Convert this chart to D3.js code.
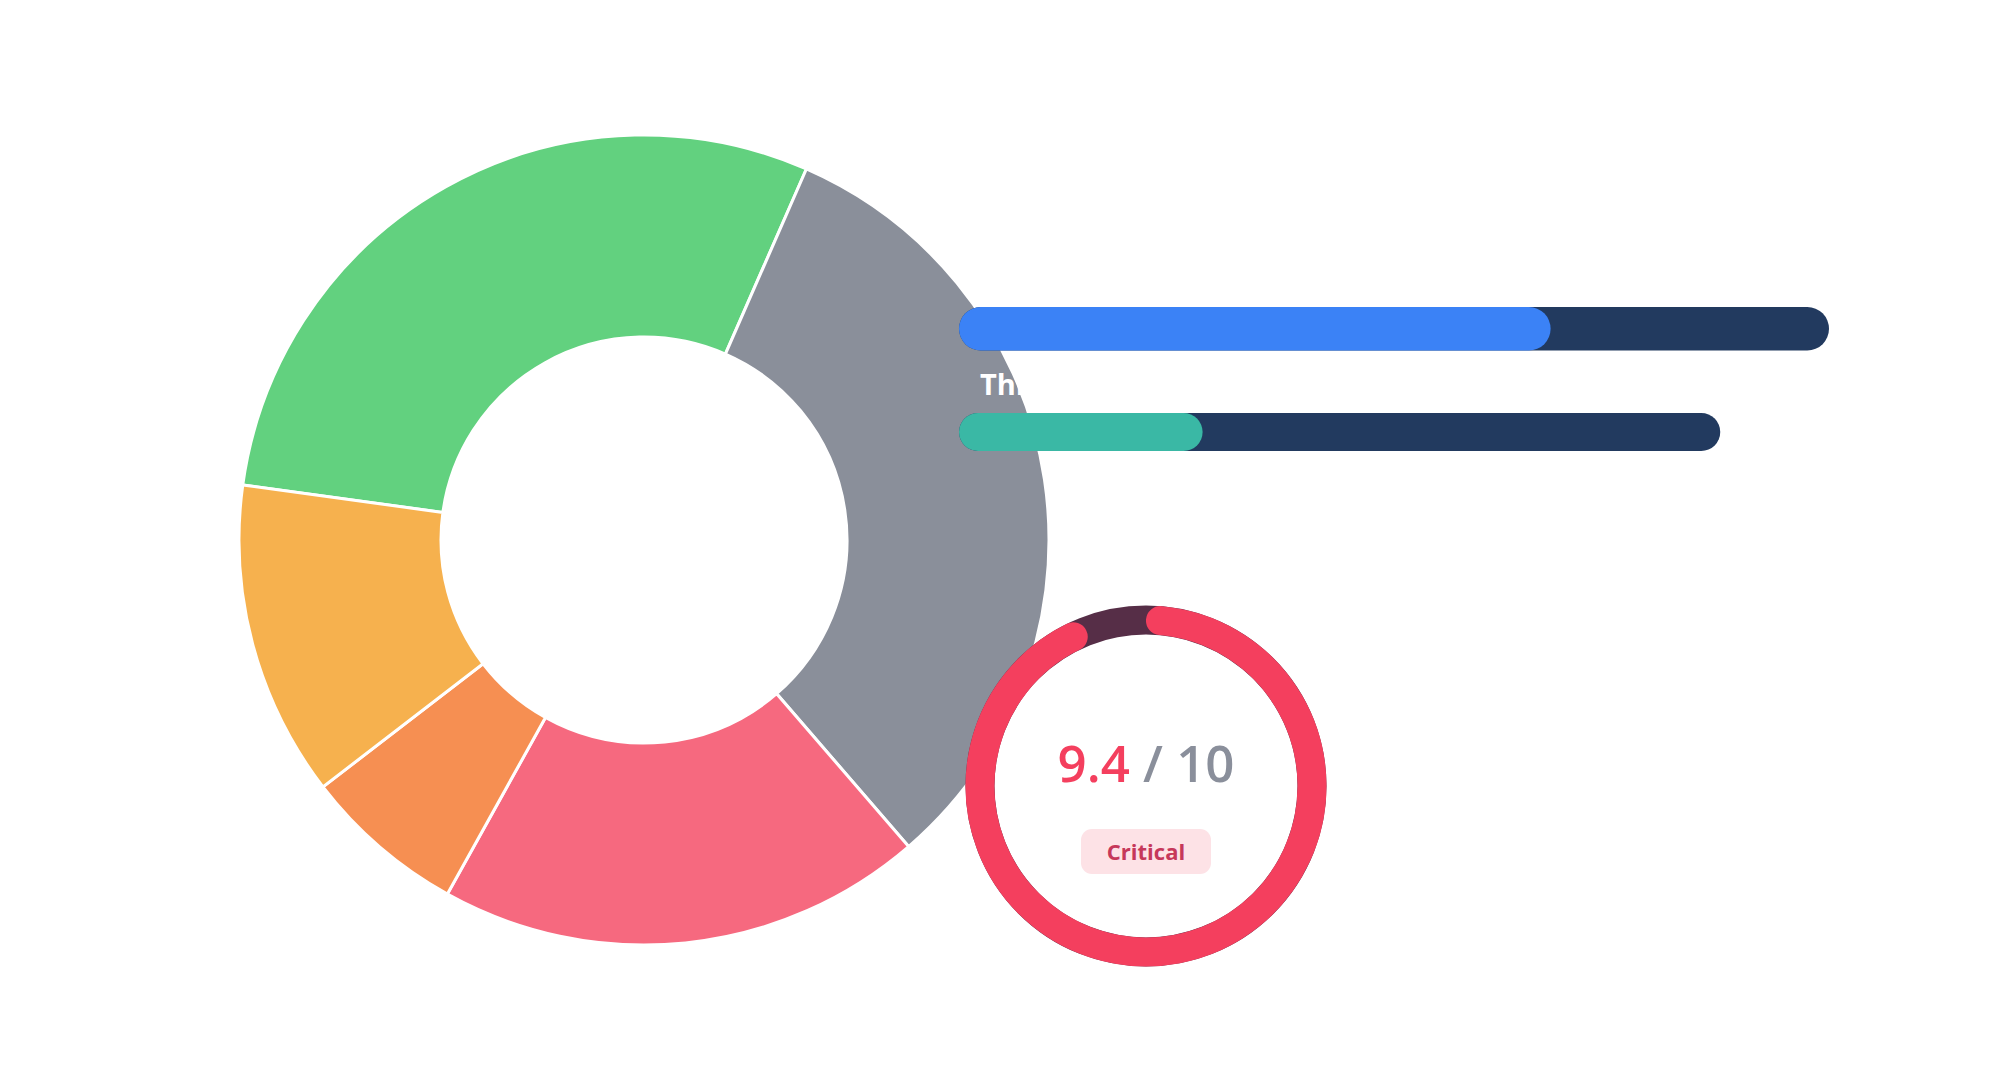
<!DOCTYPE html>
<html>
<head>
<meta charset="utf-8">
<script src="https://d3js.org/d3.v7.min.js"></script>
<style>
    body { margin: 0; background: #fff; }
    svg { display: block; font-family: "Open Sans", "Noto Sans", sans-serif; }
</style>
</head>
<body>
<script>

    // donut data
    var sliceLabels = ['Passed', 'Skipped', 'Failed', 'Errored', 'Warning'];
    var sliceValues = [29.4, 32.1, 19.4, 6.5, 12.6];
    var sliceColors = ['#62d17f', '#8a8f9a', '#f6697f', '#f68f52', '#f6b14e'];

    // progress bars
    var barLabels = ['Threat coverage', 'Threat exposure'];
    var barValues = [5.44, 2.24];
    var barMax = [8, 7];
    var barColors = ['#3b82f6', '#3ab8a5'];

    // score gauge
    var score = 9.4;
    var scoreMax = 10;
    var scoreLevel = 'Critical';

    var width = 2000,
        height = 1080;

    var svg = d3.select('body')
        .append('svg')
        .attr('width', width)
        .attr('height', height);

    svg.append('rect')
        .attr('width', width)
        .attr('height', height)
        .attr('fill', '#fff');

    // donut
    var deg = Math.PI / 180;
    var pie = d3.pie()
        .sort(null)
        .startAngle(-82.2 * deg)
        .endAngle(277.8 * deg);

    var arc = d3.arc()
        .innerRadius(203)
        .outerRadius(405);

    var donut = svg.append('g')
        .attr('transform', 'translate(644,540)');

    donut.selectAll('path')
        .data(pie(sliceValues))
        .enter()
        .append('path')
        .attr('d', arc)
        .attr('fill', (d, i) => sliceColors[i])
        .attr('stroke', '#fff')
        .attr('stroke-width', 3);

    // bars
    var xScale = d3.scaleLinear()
        .domain([0, 8])
        .range([959, 1829]);

    var barTop = [307, 413],
        barHeight = [43.5, 38];

    var bars = svg.append('g');

    bars.selectAll('rect.track')
        .data(barMax)
        .enter()
        .append('rect')
        .attr('class', 'track')
        .attr('x', xScale(0))
        .attr('y', (d, i) => barTop[i])
        .attr('width', d => xScale(d) - xScale(0))
        .attr('height', (d, i) => barHeight[i])
        .attr('rx', (d, i) => barHeight[i] / 2)
        .attr('fill', '#223a5f');

    bars.selectAll('rect.fill')
        .data(barValues)
        .enter()
        .append('rect')
        .attr('class', 'fill')
        .attr('x', xScale(0))
        .attr('y', (d, i) => barTop[i])
        .attr('width', d => xScale(d) - xScale(0))
        .attr('height', (d, i) => barHeight[i])
        .attr('rx', (d, i) => barHeight[i] / 2)
        .attr('fill', (d, i) => barColors[i]);

    // white labels, only visible where they cross the donut
    bars.selectAll('text')
        .data(barLabels)
        .enter()
        .append('text')
        .attr('x', xScale(0) + 21)
        .attr('y', (d, i) => barTop[i] - 18)
        .attr('fill', '#fff')
        .attr('font-size', 29)
        .attr('font-weight', 700)
        .text(d => d);

    // gauge
    var gx = 1146, gy = 786, gr = 166;
    var angle = d3.scaleLinear()
        .domain([0, scoreMax])
        .range([5 * deg, 355 * deg]);

    var gauge = svg.append('g')
        .attr('transform', 'translate(' + gx + ',' + gy + ')');

    gauge.append('circle')
        .attr('r', gr)
        .attr('fill', '#fff')
        .attr('stroke', '#562e47')
        .attr('stroke-width', 29);

    var p = d3.path();
    p.arc(0, 0, gr, angle(0) - Math.PI / 2, angle(score) - Math.PI / 2);
    gauge.append('path')
        .attr('d', p.toString())
        .attr('fill', 'none')
        .attr('stroke', '#f43f5e')
        .attr('stroke-width', 29)
        .attr('stroke-linecap', 'round');

    var scoreText = gauge.append('text')
        .attr('y', -4)
        .attr('text-anchor', 'middle')
        .attr('font-size', 51)
        .attr('font-weight', 600);
    scoreText.append('tspan')
        .attr('fill', '#f43f5e')
        .text(d3.format('.1f')(score));
    scoreText.append('tspan')
        .attr('fill', '#8a8f9b')
        .text(' / ' + scoreMax);

    gauge.append('rect')
        .attr('x', -65)
        .attr('y', 43)
        .attr('width', 130)
        .attr('height', 45)
        .attr('rx', 11)
        .attr('fill', '#fde2e6');

    gauge.append('text')
        .attr('y', 73.5)
        .attr('text-anchor', 'middle')
        .attr('font-size', 22)
        .attr('font-weight', 700)
        .attr('fill', '#c6385a')
        .text(scoreLevel);

</script>
</body>
</html>
